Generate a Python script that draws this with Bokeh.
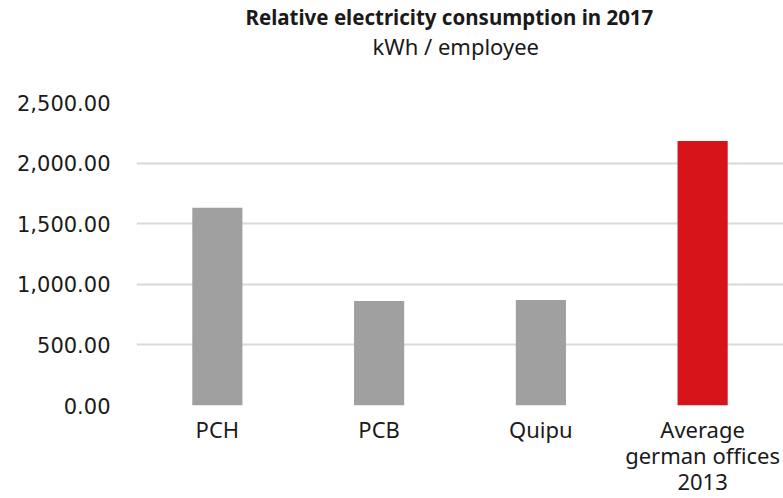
from bokeh.plotting import figure
from bokeh.models import Title, FixedTicker, NumeralTickFormatter, FactorRange, Range1d
from bokeh.embed import file_html
from bokeh.resources import INLINE

categories = ["PCH", "PCB", "Quipu", "Average\ngerman offices\n2013"]
values = [1632, 862, 871, 2182]
colors = ["#a0a0a0", "#a0a0a0", "#a0a0a0", "#d7141a"]
y_ticks = [0, 500, 1000, 1500, 2000, 2500]

p = figure(x_range=FactorRange(*categories), y_range=Range1d(0, 2500),
           width=783, height=498, output_backend="svg", toolbar_location=None,
           min_border_left=136, min_border_right=0, min_border_bottom=91,
           min_border_top=0)

p.vbar(x=categories, top=values, width=0.31, color=colors, line_color=None)

# spacer between subtitle and plot area
p.add_layout(Title(text=" ", text_font="Noto Sans", text_font_size="10px",
                   standoff=24), "above")
p.add_layout(Title(text="kWh / employee", align="left", offset=236,
                   text_font="Noto Sans",
                   text_font_size="22px", text_font_style="normal",
                   text_color="#1a1a1a", standoff=0, vertical_align="top"), "above")
p.add_layout(Title(text="Relative electricity consumption in 2017", align="left",
                   offset=109, text_font="Noto Sans", text_font_size="20.5px",
                   text_font_style="bold", text_color="#1a1a1a", standoff=0,
                   vertical_align="bottom"), "above")

p.outline_line_color = None
p.xgrid.grid_line_color = None
p.ygrid.grid_line_color = "#d9d9d9"
p.ygrid.grid_line_width = 2
p.yaxis.ticker = FixedTicker(ticks=y_ticks)
p.yaxis.formatter = NumeralTickFormatter(format="0,0.00")

for ax in (p.xaxis[0], p.yaxis[0]):
    ax.axis_line_color = None
    ax.major_tick_line_color = None
    ax.minor_tick_line_color = None
    ax.major_label_text_color = "#1a1a1a"

p.yaxis.major_label_text_font = "DejaVu Sans"
p.yaxis.major_label_text_font_size = "21px"
p.yaxis.major_label_standoff = 20
p.xaxis.major_label_text_font = "Noto Sans"
p.xaxis.major_label_text_font_size = "22px"
p.xaxis.major_label_text_line_height = 0.87
p.xaxis.major_label_standoff = 2

open("out.html", "w").write(file_html(p, INLINE))
